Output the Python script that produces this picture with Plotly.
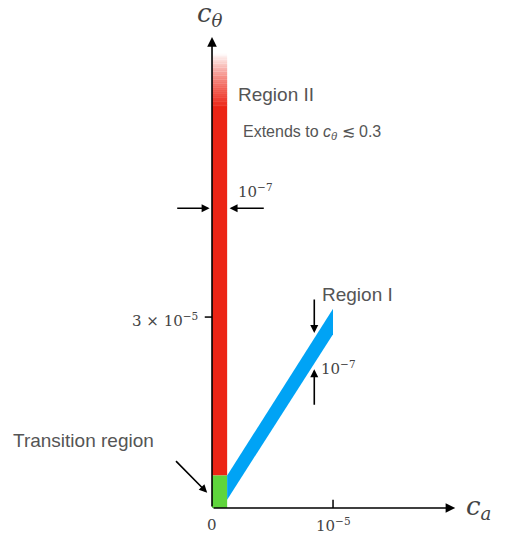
import numpy as np
import plotly.graph_objects as go

# data units: x in 1e-5, y in 1e-5 (schematic)
band_w = 0.125
red_y = [0.51, 6.3, 7.14]          # bottom, end of solid, top of fade
green_y = [0.0, 0.51]
blue_x = [0.125, 0.125, 1.0, 1.0]
blue_y = [0.13, 0.51, 3.13, 2.73]
x_ticks = [0, 1.0]
x_tick_labels = ["0", "10<sup>−5</sup>"]
y_ticks = [3.0]
y_tick_labels = ["3 × 10<sup>−5</sup>"]

fig = go.Figure()

def rect(x0, x1, y0, y1, color, opacity=1.0):
    fig.add_trace(go.Scatter(x=[x0, x1, x1, x0, x0], y=[y0, y0, y1, y1, y0], fill="toself",
                             fillcolor=color, opacity=opacity, mode="none", hoverinfo="skip"))

rect(0, band_w, red_y[0], red_y[1], "#ec2415")
n = 40
edges = np.linspace(red_y[1], red_y[2], n + 1)
for i in range(n):
    rect(0, band_w, edges[i], edges[i + 1] + 0.005, "#ec2415", 1 - (i + 0.5) / n)
rect(0, band_w, green_y[0], green_y[1], "#5fd53c")
fig.add_trace(go.Scatter(x=blue_x + blue_x[:1], y=blue_y + blue_y[:1], fill="toself",
                         fillcolor="#00a3f5", mode="none", hoverinfo="skip"))

serif = "DejaVu Serif"
sans = "Liberation Sans"
ann = []

def arrow(x, y, ax, ay, width=1.6, size=1.0):
    ann.append(dict(x=x, y=y, ax=ax, ay=ay, xref="x", yref="y", axref="x", ayref="y",
                    showarrow=True, arrowhead=2, arrowsize=size, arrowwidth=width,
                    arrowcolor="black", text=""))

def text(x, y, s, size, font=sans, color="#555555", xanchor="left"):
    ann.append(dict(x=x, y=y, xref="x", yref="y", text=s, showarrow=False,
                    font=dict(size=size, family=font, color=color), xanchor=xanchor))

# axes
arrow(0, 7.4, 0, 0, 1.6, 1.2)
arrow(2.01, 0, 0, 0, 1.6, 1.2)
fig.add_shape(type="line", x0=-0.06, x1=0, y0=y_ticks[0], y1=y_ticks[0], line=dict(color="black", width=1.5))
fig.add_shape(type="line", x0=x_ticks[1], x1=x_ticks[1], y0=0, y1=0.13, line=dict(color="black", width=1.5))
for xv, lab in zip(x_ticks, x_tick_labels):
    text(xv, -0.27, lab, 15, serif, "#444444", "center")
for yv, lab in zip(y_ticks, y_tick_labels):
    text(-0.1, yv - 0.05, lab, 15, serif, "#444444", "right")

text(-0.02, 7.75, "<i>c<sub>θ</sub></i>", 26, serif, "#444444", "center")
text(2.08, 0.0, "<i>c<sub>a</sub></i>", 26, serif, "#444444", "left")

# width arrows for region II
arrow(-0.02, 4.71, -0.3, 4.71)
arrow(0.145, 4.71, 0.44, 4.71)
text(0.2, 4.98, "10<sup>−7</sup>", 15, serif, "#444444")
text(0.2, 6.5, "Region II", 19)
text(0.24, 5.9, "Extends to <i>c<sub>θ</sub></i> ≲ 0.3", 16)

# width arrows for region I
arrow(0.845, 2.75, 0.845, 3.3)
arrow(0.845, 2.18, 0.845, 1.6)
text(0.88, 2.2, "10<sup>−7</sup>", 15, serif, "#444444")
text(0.89, 3.35, "Region I", 19)

text(-1.66, 1.06, "Transition region", 19)
arrow(-0.04, 0.24, -0.31, 0.76)

fig.update_layout(
    width=508, height=545, margin=dict(l=0, r=0, t=0, b=0),
    plot_bgcolor="white", paper_bgcolor="white", showlegend=False,
    annotations=ann,
    xaxis=dict(range=[-1.686, 2.512], visible=False, fixedrange=True),
    yaxis=dict(range=[-0.708, 7.857], visible=False, fixedrange=True),
)
fig.write_html("out.html")
